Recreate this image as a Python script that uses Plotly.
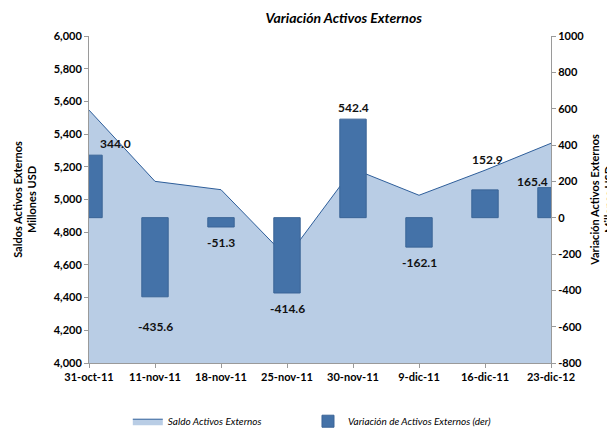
import plotly.graph_objects as go

categories = ["31-oct-11", "11-nov-11", "18-nov-11", "25-nov-11",
              "30-nov-11", "9-dic-11", "16-dic-11", "23-dic-12"]
saldo = [5547, 5111, 5060, 4645, 5188, 5026, 5179, 5344]
variacion = [344.0, -435.6, -51.3, -414.6, 542.4, -162.1, 152.9, 165.4]
left_ticks = list(range(4000, 6001, 200))
right_ticks = list(range(-800, 1001, 200))

# label offsets (pixels) relative to bar end
label_dx = [26, 0, 0, 0, 0, 0, 2, -19]
label_dy = [12, -30, -16, -16, 12, -15, 30, 6]

xpos = list(range(len(categories)))
FONT = "Lato, 'Open Sans', sans-serif"

fig = go.Figure()
fig.add_trace(go.Scatter(
    x=xpos, y=saldo, name="<i>Saldo Activos Externos</i>", mode="lines",
    line=dict(color="#2E5E9A", width=1), fill="tozeroy",
    fillcolor="#B9CDE5", yaxis="y", legend="legend"))
fig.add_trace(go.Bar(
    x=xpos, y=variacion, name="<i>Variación de Activos Externos (der)</i>",
    width=0.4, marker=dict(color="#4472A8", line=dict(color="#3A6496", width=1)),
    yaxis="y2", legend="legend2"))

for i, v in enumerate(variacion):
    fig.add_annotation(x=i, y=v, yref="y2", text=f"<b>{v:.1f}</b>", showarrow=False,
                       xshift=label_dx[i], yshift=label_dy[i],
                       font=dict(family=FONT, size=12, color="#111111"))

legend_common = dict(orientation="h", xanchor="left", y=-0.178, yanchor="middle",
                     font=dict(family=FONT, size=10), itemwidth=30,
                     bgcolor="rgba(0,0,0,0)")

# page has an 8px body margin: figure is 607x420 placed at (8, 8)
fig.update_layout(
    width=607, height=420,
    margin=dict(l=81, r=64, t=28, b=65, autoexpand=False),
    paper_bgcolor="white", plot_bgcolor="white",
    font=dict(family=FONT, size=11, color="#000000"),
    title=dict(text="<b><i>Variación Activos Externos</i></b>", x=0.553, xanchor="center",
               y=0.976, yanchor="middle", font=dict(family=FONT, size=14)),
    showlegend=True,
    legend=dict(x=0.084, **legend_common),
    legend2=dict(x=0.474, **legend_common),
    xaxis=dict(range=[0, 7], tickvals=xpos, ticktext=[f"<b>{c}</b>" for c in categories],
               showgrid=False, zeroline=False, showline=True, linecolor="#9A9A9A",
               ticks="outside", ticklen=4, tickcolor="#9A9A9A",
               tickfont=dict(family=FONT, size=11)),
    yaxis=dict(range=[4000, 6000], tickvals=left_ticks,
               ticktext=[f"<b>{t:,}</b>" for t in left_ticks],
               showgrid=False, zeroline=False, showline=True, linecolor="#9A9A9A",
               ticks="outside", ticklen=4, tickcolor="#9A9A9A",
               tickfont=dict(family=FONT, size=11),
               title=dict(text="<b>Saldos Activos Externos<br>Millones USD</b>",
                          font=dict(family=FONT, size=11), standoff=14)),
    yaxis2=dict(range=[-800, 1000], tickvals=right_ticks,
                ticktext=[f"<b>{t}</b>" for t in right_ticks],
                overlaying="y", side="right",
                showgrid=False, zeroline=False, showline=True, linecolor="#9A9A9A",
                ticks="outside", ticklen=4, tickcolor="#9A9A9A",
                tickfont=dict(family=FONT, size=11),
                title=dict(text="<b>Variación Activos Externos<br>Millones USD</b>",
                           font=dict(family=FONT, size=11), standoff=10)),
    bargap=0.6,
)

fig.write_html("out.html")
